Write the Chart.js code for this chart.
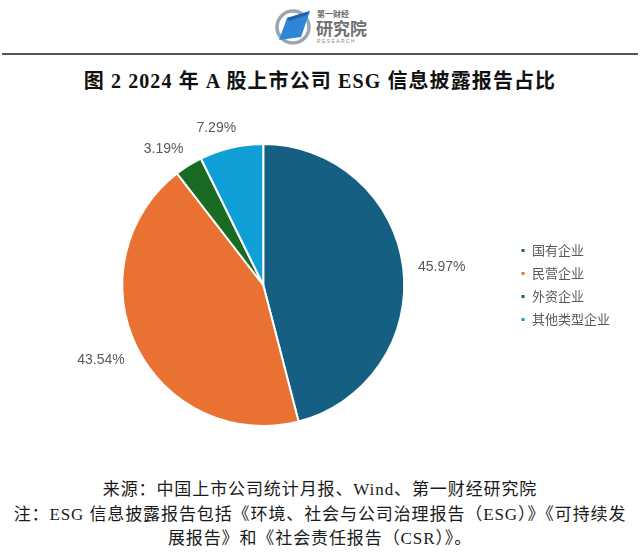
<!DOCTYPE html>
<html lang="zh-CN">
<head>
<meta charset="utf-8">
<title>2024年A股上市公司ESG信息披露报告占比</title>
<script src="https://cdn.jsdelivr.net/npm/chart.js@4.4.1/dist/chart.umd.min.js"></script>
<style>
    body {
        margin: 0;
        width: 640px;
        height: 552px;
        background: #ffffff;
        position: relative;
        overflow: hidden;
        font-family: "Liberation Serif", "Noto Sans CJK SC", serif;
    }
    #logo {
        position: absolute;
        left: 270px;
        top: 2px;
    }
    #linha {
        position: absolute;
        left: 2px;
        top: 53px;
        width: 636px;
        height: 2px;
        background: #555555;
    }
    #titulo {
        position: absolute;
        left: 0;
        top: 68px;
        width: 640px;
        text-align: center;
        font-size: 20px;
        font-weight: bold;
        letter-spacing: 1.1px;
        color: #111111;
        line-height: 26px;
    }
    #grafico {
        position: absolute;
        left: 0;
        top: 110px;
    }
    #fonte {
        position: absolute;
        left: 0;
        top: 478px;
        width: 640px;
        text-align: center;
        font-size: 17px;
        line-height: 24.5px;
        color: #1a1a1a;
        letter-spacing: 0.9px;
    }
</style>
</head>
<body>
<svg id="logo" width="110" height="50" viewBox="0 0 110 50">
    <circle cx="23" cy="25" r="16" fill="none" stroke="#9aa7b3" stroke-width="3.5"/>
    <polygon points="17,16 40,9 31,35 9,38" fill="#2f86d6"/>
    <polygon points="17,16 40,9 37,13 19,19" fill="#1d64b0"/>
    <text x="47" y="15" font-family="Noto Sans CJK SC" font-size="8" font-weight="bold" fill="#6a6a6a">第一财经</text>
    <text x="46" y="33" font-family="Noto Sans CJK SC" font-size="17" font-weight="bold" fill="#707070">研究院</text>
    <text x="47" y="41" font-family="Liberation Sans" font-size="5" fill="#8a8a8a" letter-spacing="1.4">RESEARCH</text>
</svg>
<div id="linha"></div>
<div id="titulo">图 2 2024 年 A 股上市公司 ESG 信息披露报告占比</div>
<canvas id="grafico" width="640" height="350"></canvas>
<div id="fonte">
    来源：中国上市公司统计月报、Wind、第一财经研究院<br>
    注：ESG 信息披露报告包括《环境、社会与公司治理报告（ESG）》《可持续发<br>
    展报告》和《社会责任报告（CSR）》。
</div>
<script>
// 数据
const categorias = ['国有企业', '民营企业', '外资企业', '其他类型企业'];
const percentuais = [45.97, 43.54, 3.19, 7.29];
const cores = ['#156082', '#E97132', '#196B24', '#0F9ED5'];

// 扇区外侧的百分比标签
const rotulosExternos = {
    id: 'rotulosExternos',
    afterDatasetsDraw(chart) {
        const ctx = chart.ctx;
        const meta = chart.getDatasetMeta(0);
        ctx.save();
        ctx.font = '14px "Liberation Sans", Arial, sans-serif';
        ctx.fillStyle = '#595959';
        ctx.textAlign = 'center';
        ctx.textBaseline = 'middle';
        meta.data.forEach((arco, i) => {
            const p = arco.getProps(['x', 'y', 'startAngle', 'endAngle', 'outerRadius'], true);
            const meio = (p.startAngle + p.endAngle) / 2;
            const texto = percentuais[i].toFixed(2) + '%';
            const meiaLargura = ctx.measureText(texto).width / 2;
            const r = p.outerRadius + 16;
            // rótulos perto do topo ficam um pouco mais à esquerda
            const x = p.x + Math.cos(meio) * (r + meiaLargura) - Math.max(0, -Math.sin(meio)) * 7;
            const y = p.y + Math.sin(meio) * (r + 7) + 3;
            ctx.fillText(texto, x, y);
        });
        ctx.restore();
    }
};

function criarGrafico() {
    const ctx = document.getElementById('grafico').getContext('2d');
    new Chart(ctx, {
        type: 'pie',
        data: {
            labels: categorias,
            datasets: [{
                data: percentuais,
                backgroundColor: cores,
                borderColor: '#ffffff',
                borderWidth: 2
            }]
        },
        options: {
            responsive: false,
            devicePixelRatio: 1,
            animation: false,
            layout: {
                padding: { left: 16, right: 20, top: 33, bottom: 33 }
            },
            plugins: {
                legend: {
                    position: 'right',
                    labels: {
                        boxWidth: 5,
                        boxHeight: 5,
                        padding: 10,
                        color: '#595959',
                        font: { size: 13, family: '"Noto Sans CJK SC", sans-serif' }
                    }
                },
                tooltip: { enabled: false }
            }
        },
        plugins: [rotulosExternos]
    });
}

document.addEventListener('DOMContentLoaded', criarGrafico);
</script>
</body>
</html>
